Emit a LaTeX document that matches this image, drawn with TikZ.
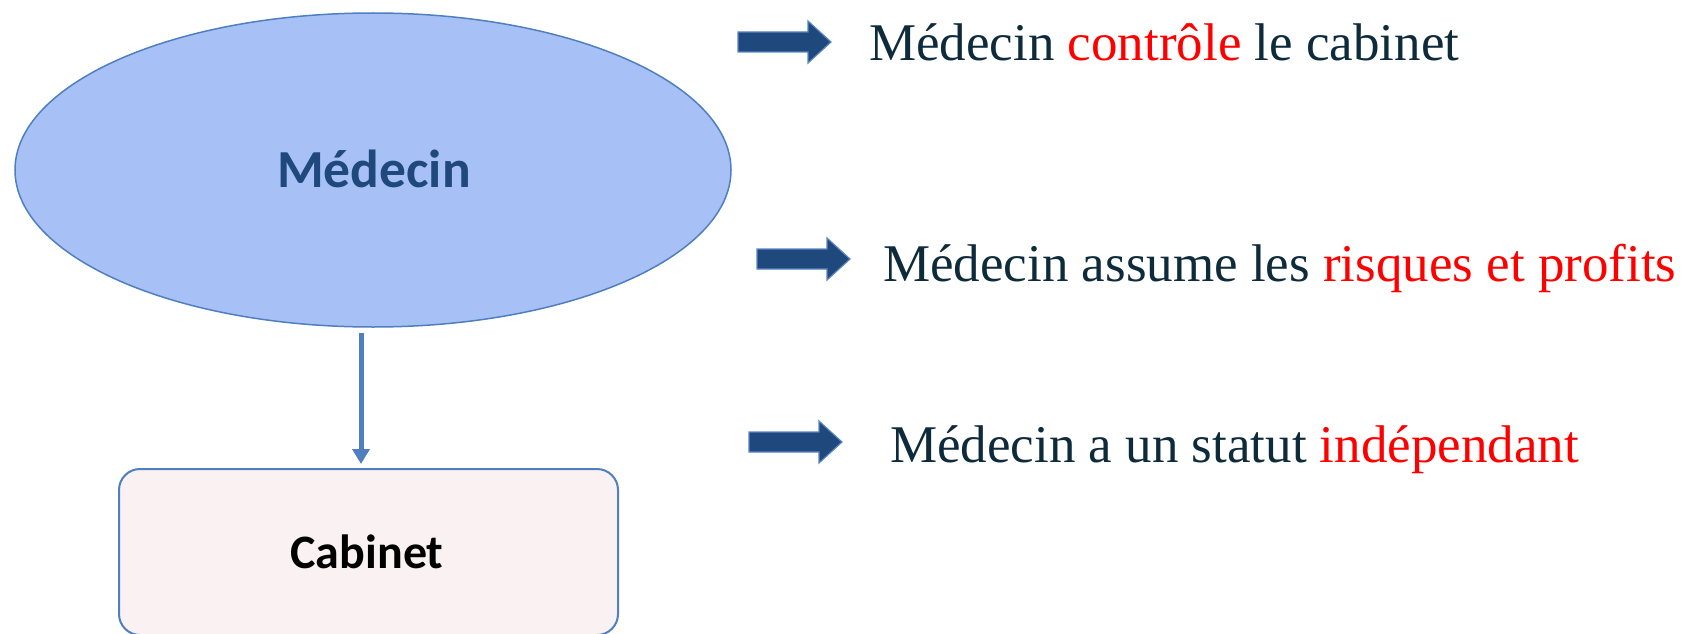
\documentclass[tikz,border=0pt]{standalone}
\usepackage{fontspec}
\setmainfont{Liberation Serif}
\newfontfamily\calib{Carlito}
\usetikzlibrary{shapes.geometric,arrows.meta}
\definecolor{ellfill}{HTML}{A7C1F6}
\definecolor{bord}{HTML}{4F7FBF}
\definecolor{medc}{HTML}{1F487C}
\definecolor{arrfill}{HTML}{1F497D}
\definecolor{arrbord}{HTML}{5B86C4}
\definecolor{boxfill}{HTML}{FAF1F2}
\definecolor{txtc}{HTML}{0E2B3B}
\definecolor{hl}{HTML}{FF0000}
\begin{document}
\begin{tikzpicture}[x=1pt,y=-1pt,
  txt/.style={anchor=base west, inner sep=0pt, font=\fontsize{53}{60}\selectfont, text=txtc},
  lbl/.style={font={\calib\bfseries\fontsize{#1}{60}\selectfont}, inner sep=0pt},
  ellnode/.style={ellipse, draw=bord, fill=ellfill, line width=1.5pt, inner sep=0pt},
  boxnode/.style={rectangle, rounded corners=21pt, draw=bord, fill=boxfill, line width=2pt, inner sep=0pt},
  conn/.style={draw=bord, line width=5pt, -{Triangle[width=17pt,length=15pt]}, shorten >=4pt},
  barrow/.style={fill=arrfill, draw=arrbord, line width=1.2pt, line join=miter},
  blockarrow/.pic={\draw[barrow] (0,-10) -- (70,-10) -- (70,-21) -- (93,0) -- (70,21) -- (70,10) -- (0,10) -- cycle;}
]
\useasboundingbox (0,0) rectangle (1689,634);
% ellipse
\node[ellnode, minimum width=716pt, minimum height=314pt] (med) at (373,170) {};
\node[lbl=53.5, text=medc] (medt) at (374,169) {Médecin};
% box
\node[boxnode, minimum width=499pt, minimum height=166pt] (cab) at (368.5,552) {};
\node[lbl=48, text=black] (cabt) at (367,552) {Cabinet};
% connector
\coordinate (cs) at (361,333);
\draw[conn] (cs) -- (cs |- cab.north);
% block arrows
\pic at (738,42) {blockarrow};
\pic at (757,259) {blockarrow};
\pic at (749,442) {blockarrow};
% texts
\node[txt] (t1) at (869,61) {Médecin \textcolor{hl}{contrôle} le cabinet};
\node[txt] (t2) at (883,281) {Médecin assume les \textcolor{hl}{risques et profits}};
\node[txt] (t3) at (890,462) {Médecin a un statut \textcolor{hl}{indépendant}};
\end{tikzpicture}
\end{document}
